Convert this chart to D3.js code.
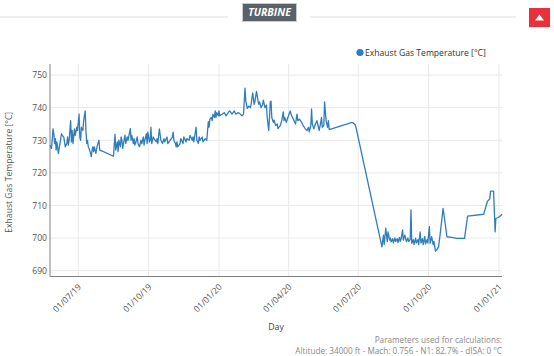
<!DOCTYPE html>
<html>
<head>
<meta charset="utf-8">
<script src="https://cdn.jsdelivr.net/npm/d3@7/dist/d3.min.js"></script>
<style>
  html, body { margin: 0; padding: 0; background: #fff; }
  svg { display: block; font-family: "Open Sans", sans-serif; }
</style>
</head>
<body>
<svg id="chart" width="554" height="356"></svg>
<script>
// ---------- DATA ----------
// each reading: [days since startDate, exhaust gas temperature °C]
const startDate = "2019-05-25";
const endOffset = 591; // days shown on the axis
const readings2019 = [
  [0,728.5],[2,727.5],[4,733.5],[5,732],[6,729],[7,730.5],[8,727],[9,729.5],[11,726],[12,727.5],[13,729],[15,732],[16,731.5],[18,731],[19,729.5],[20,728],[22,729],[23,731],[24,728.5],[25,730],[27,736],[28,729.5],[29,733],[30,729],[32,733.5],[33,731.5],[35,734],[36,733],[38,738],[39,731],[40,730],[41,734],[43,733],[44,736],[46,739],[47,733],[48,729],[49,730],[50,728],[51,727.5],[53,726],[54,725],[55,727],[56,728],[57,726.5],[58,728],[59,727],[60,726],[61,727.5],[62,728.5],[64,730],[65,727],[67,726.8],[83,725.1],
  [85,731.8],[86,727],[88,729.5],[89,726.5],[90,730],[92,728],[93,731],[94,730],[95,727.5],[98,731.6],[99,729],[101,731],[102,730],[105,733.6],[106,730],[107,731.5],[109,729],[110,730.5],[111,728.5],[113,730],[114,731],[115,729],[117,728],[119,730],[120,729],[122,731],[123,728.5],[124,730],[126,732],[127,729],[128,732.5],[130,729.5],[131,730],[132,734],[133,729],[135,731],[136,730.5],[139,729.5],[140,730.5],[141,729],[143,733.5],[145,730],[147,729],[149,730.5],[150,729.5],[153,731],[154,729],[157,730],[160,731],[161,732.5],[162,730],[164,729],[165,728],[166,729.5],[167,728],[170,729],[171,730.5],[174,729],[175,731],[178,729.5],[179,730.5],[182,730],[183,731.5],[186,730],[187,731],[188,729.5],[191,734],[192,730],[194,729],[195,731],[196,730],[199,731],[200,729.5],[203,730.5],[205,730]
];
const readings2020a = [
  [207,735.7],[208,734],[209,736.5],[211,737],[212,736],[213,738],[215,737],[216,739],[217,737],[218,738.5],[220,737.5],[221,739],[222,737.5],[225,738],[228,738.5],[230,737.5],[233,738.5],[235,739],[238,738],[241,739],[243,738],[246,738.5],[249,738],[251,737.5],[253,738],[255,746],[256,742],[258,739.8],[260,740.5],[262,740],[263,741],[265,744.5],[267,741],[268,742],[270,745],[272,742],[273,741],[274,741.8],[276,740],[278,741],[279,742.3],[281,740],[283,740.8],[284,737],[286,733],[287,737],[288,741.8],[289,742],[290,737],[292,735.5],[293,736.2],[295,734.5],[297,735],[298,733.6],[301,734.5],[303,736],[305,738.7],[306,736],[307,737],[309,735.5],[311,737],[314,739],[316,737.5],[318,736.5],[321,735],[323,738],[324,736],[326,736.5],[329,735.5],[331,734.5],[334,733.5],[336,733],[338,734],[339,732.6],[341,734.5],[342,739.6],[343,735],[345,733.5],[347,735],[349,736],[351,734],[352,733],[354,735.5],[355,737],[356,734],[358,734.5],[359,741.8],[361,736],[363,734],[364,736],[365,733.3],[395,735.5],[399,734.8],[400,734]
];
const readings2020b = [
  [434,697.3],[436,700.9],[437,698],[439,703],[441,698.9],[442,701.9],[444,699.4],[445,700],[446,698.8],[448,699.8],[449,698.5],[451,700],[452,699],[454,699.8],[455,698.6],[457,700.2],[458,699],[459,699.6],[461,702.5],[462,699.4],[464,700.9],[466,698.9],[468,700],[469,699],[471,699.5],[472,708.6],[473,698.4],[475,699.5],[476,698],[478,700],[479,698.5],[481,699.5],[482,698],[484,701.9],[485,698.5],[487,699.8],[488,698],[490,700.5],[491,698.2],[493,699.5],[494,698.5],[496,703.5],[497,698.4],[499,700.4],[501,698],[502,699],[504,696],[506,696.5],[508,697.3],[510,700.9],[514,709.1],[519,700.4],[525,700.2],[532,699.9],[542,699.9],[546,706.7],[567,707.3],[572,711.3],[575,712],[576,714.4],[580,714.4],[582,701.9],[583,706],[586,706.3],[589,706.8],[591,707.3]
];
const yTicks = [690, 700, 710, 720, 730, 740, 750];
const xTickDates = ["2019-07-01","2019-10-01","2020-01-01","2020-04-01","2020-07-01","2020-10-01","2021-01-01"];
const seriesName = "Exhaust Gas Temperature [°C]";
const sectionTitle = "TURBINE";
const xTitle = "Day";
const footLines = ["Parameters used for calculations:", "Altitude: 34000 ft - Mach: 0.756 - N1: 82.7% - dISA: 0 °C"];

// ---------- LAYOUT ----------
const svg = d3.select("#chart");
const L = 50, R = 502, T = 64, B = 276.5;
const lineColor = "#2f7dbd";

const parse = d3.utcParse("%Y-%m-%d");
const t0 = parse(startDate);
const x = d3.scaleUtc().domain([t0, d3.utcDay.offset(t0, endOffset)]).range([L, R]);
const y = d3.scaleLinear().domain([688.2, 753.4]).range([B, T]);

const data = readings2019.concat(readings2020a, readings2020b)
  .map(([d, v]) => ({ date: d3.utcDay.offset(t0, d), v }));
const tickDates = xTickDates.map(parse);

// header
svg.append("line").attr("x1", 0).attr("x2", 228).attr("y1", 17).attr("y2", 17).attr("stroke", "#dddddd").attr("stroke-width", 1);
svg.append("line").attr("x1", 310).attr("x2", 516).attr("y1", 17).attr("y2", 17).attr("stroke", "#dddddd").attr("stroke-width", 1);
svg.append("rect").attr("x", 242.5).attr("y", 3.5).attr("width", 54).attr("height", 18)
  .attr("fill", "#596169").attr("stroke", "#c9cbcd").attr("stroke-width", 1);
svg.append("text").attr("x", 269.5).attr("y", 16.3).attr("text-anchor", "middle")
  .attr("fill", "#ffffff").attr("font-size", "10.5px").attr("font-style", "italic").attr("font-weight", "bold")
  .text(sectionTitle);
svg.append("rect").attr("x", 529).attr("y", 8).attr("width", 21).attr("height", 19).attr("fill", "#e8313b");
svg.append("path").attr("d", "M535,20.5 L539.5,14.5 L544,20.5 Z").attr("fill", "#ffffff");

// grid
svg.append("g").selectAll("line").data(yTicks).join("line")
  .attr("x1", L).attr("x2", R).attr("y1", d => y(d)).attr("y2", d => y(d))
  .attr("stroke", "#e9e9e9").attr("stroke-width", 1);
svg.append("g").selectAll("line").data(tickDates).join("line")
  .attr("x1", d => x(d)).attr("x2", d => x(d)).attr("y1", T).attr("y2", B)
  .attr("stroke", "#e9e9e9").attr("stroke-width", 1);

// axes
const yAxis = svg.append("g").attr("transform", `translate(${L},0)`)
  .call(d3.axisLeft(y).tickValues(yTicks).tickSize(0).tickPadding(3));
yAxis.select(".domain").attr("stroke", "#808080").attr("stroke-width", 1).attr("d", `M0,${T}V${B}`);
yAxis.selectAll("text").attr("font-size", "8.6px").attr("fill", "#555").attr("font-family", "Open Sans, sans-serif");

const xAxis = svg.append("g").attr("transform", `translate(0,${B})`)
  .call(d3.axisBottom(x).tickValues(tickDates).tickSize(0).tickFormat(d3.utcFormat("%d/%m/%y")));
xAxis.select(".domain").attr("stroke", "#808080").attr("stroke-width", 1.2).attr("d", `M${L},0H${R}`);
xAxis.selectAll("text")
  .attr("font-size", "8.6px").attr("fill", "#555").attr("font-family", "Open Sans, sans-serif")
  .attr("text-anchor", "end").attr("dy", 0).attr("y", 0)
  .attr("transform", "translate(3,11) rotate(-45)");

// line
svg.append("path").datum(data)
  .attr("fill", "none").attr("stroke", lineColor).attr("stroke-width", 1.3).attr("stroke-linejoin", "round")
  .attr("d", d3.line().x(d => x(d.date)).y(d => y(d.v)));

// titles
svg.append("text").attr("transform", `translate(12,${(T + B) / 2 + 2}) rotate(-90)`)
  .attr("text-anchor", "middle").attr("font-size", "8.6px").attr("fill", "#555").text(seriesName);
svg.append("text").attr("x", (L + R) / 2).attr("y", 330).attr("text-anchor", "middle")
  .attr("font-size", "8.8px").attr("fill", "#444").text(xTitle);

// legend
svg.append("circle").attr("cx", 360).attr("cy", 52.5).attr("r", 3.6).attr("fill", lineColor);
svg.append("text").attr("x", 365).attr("y", 55.5).attr("font-size", "8.6px").attr("fill", "#333").text(seriesName);

// footnote
svg.append("g").selectAll("text").data(footLines).join("text")
  .attr("x", R).attr("y", (d, i) => 342.5 + i * 11.5).attr("text-anchor", "end")
  .attr("font-size", "8.2px").attr("fill", "#888").text(d => d);
</script>
</body>
</html>
